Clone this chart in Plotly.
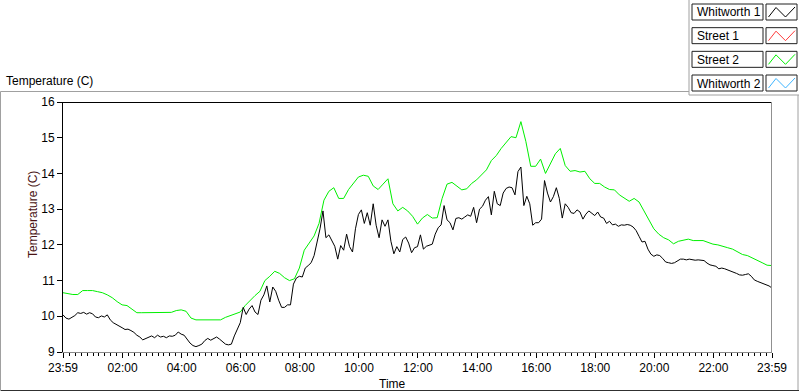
import numpy as np
import pandas as pd
import plotly.graph_objects as go

# ---------------- data ----------------
series_names = ["Whitworth 1", "Street 1", "Street 2", "Whitworth 2"]
legend_colors = ["#000000", "#ff3b3b", "#00f000", "#3cb4ff"]

black_step_min = 6
green_step_min = 10

whitworth1 = [
    10.04, 9.95, 9.92, 9.97, 10.02, 10.10, 10.08, 10.11, 10.06, 10.10,
    10.07, 9.98, 9.96, 10.01, 9.98, 10.04, 9.90, 9.82, 9.78, 9.72,
    9.68, 9.63, 9.64, 9.60, 9.55, 9.47, 9.42, 9.34, 9.38, 9.41,
    9.45, 9.40, 9.47, 9.42, 9.44, 9.40, 9.45, 9.44, 9.47, 9.56,
    9.50, 9.47, 9.35, 9.25, 9.18, 9.15, 9.18, 9.22, 9.32, 9.38,
    9.33, 9.38, 9.42, 9.36, 9.28, 9.22, 9.20, 9.22, 9.45, 9.65,
    9.82, 10.25, 10.05, 10.20, 10.30, 10.12, 10.05, 10.45, 10.60, 10.85,
    10.40, 10.82, 10.70, 10.45, 10.25, 10.25, 10.32, 10.32, 10.90, 11.07,
    11.12, 11.10, 11.35, 11.42, 11.50, 11.70, 12.05, 12.45, 12.95, 12.20,
    12.28, 12.12, 11.96, 11.60, 11.98, 11.85, 12.30, 11.95, 11.80, 12.45,
    12.85, 12.98, 12.60, 12.90, 12.55, 13.15, 12.55, 12.20, 12.70, 12.52,
    12.70, 12.10, 11.75, 11.95, 11.80, 12.15, 12.22, 12.05, 11.78, 11.92,
    11.95, 12.28, 11.88, 11.96, 11.98, 12.02, 12.30, 12.48, 12.56, 13.10,
    12.70, 12.62, 12.42, 12.74, 12.76, 12.72, 12.78, 12.84, 12.80, 13.05,
    12.62, 13.00, 13.08, 13.25, 13.35, 12.84, 13.50, 13.15, 13.10, 13.45,
    13.58, 13.62, 13.60, 13.40, 14.05, 14.18, 13.10, 13.36, 13.15, 12.55,
    12.62, 12.62, 12.72, 13.80, 13.45, 13.20, 13.35, 13.60, 13.30, 12.75,
    13.15, 13.05, 12.90, 12.88, 12.98, 12.92, 12.72, 12.86, 12.95, 12.88,
    12.82, 12.92, 12.78, 12.75, 12.60, 12.66, 12.56, 12.58, 12.52, 12.56,
    12.55, 12.57, 12.55, 12.50, 12.40, 12.24, 12.08, 12.10, 11.88, 11.74,
    11.68, 11.72, 11.70, 11.62, 11.52, 11.50, 11.48, 11.50, 11.55, 11.60,
    11.60, 11.58, 11.60, 11.58, 11.57, 11.58, 11.58, 11.56, 11.49, 11.44,
    11.42, 11.40, 11.33, 11.35, 11.33, 11.30, 11.28, 11.23, 11.20, 11.16,
    11.15, 11.17, 11.19, 11.12, 11.02, 10.98, 10.95, 10.92, 10.89, 10.85,
    10.79,
]

street2 = [
    10.66, 10.63, 10.61, 10.61, 10.72, 10.72, 10.72, 10.69, 10.66, 10.60,
    10.52, 10.41, 10.32, 10.30, 10.21, 10.10, 10.10, 10.10, 10.10, 10.10,
    10.10, 10.10, 10.11, 10.16, 10.18, 10.14, 9.95, 9.90, 9.90, 9.90,
    9.90, 9.92, 9.90, 9.97, 10.02, 10.08, 10.12, 10.30, 10.45, 10.58,
    10.70, 11.00, 11.12, 11.26, 11.20, 11.08, 11.00, 11.05, 11.35, 11.85,
    12.05, 12.25, 12.60, 13.25, 13.50, 13.60, 13.30, 13.30, 13.55, 13.72,
    13.90, 13.95, 13.92, 13.65, 13.55, 13.70, 13.85, 13.15, 12.95, 13.05,
    12.95, 12.80, 12.58, 12.75, 12.85, 12.75, 12.76, 13.30, 13.70, 13.75,
    13.65, 13.54, 13.57, 13.72, 13.82, 13.95, 14.10, 14.36, 14.50, 14.70,
    14.85, 15.03, 15.00, 15.45, 14.90, 14.20, 14.20, 14.40, 14.00, 14.30,
    14.55, 14.70, 14.22, 14.06, 14.08, 14.04, 14.06, 13.85, 13.72, 13.72,
    13.62, 13.55, 13.54, 13.40, 13.30, 13.22, 13.30, 13.20, 12.95, 12.68,
    12.45, 12.30, 12.20, 12.14, 12.03, 12.10, 12.12, 12.16, 12.12, 12.12,
    12.12, 12.07, 12.02, 12.00, 11.95, 11.92, 11.88, 11.80, 11.73, 11.70,
    11.64, 11.58, 11.50, 11.43, 11.42,
]

x_tick_labels = ["23:59", "02:00", "04:00", "06:00", "08:00", "10:00", "12:00",
                 "14:00", "16:00", "18:00", "20:00", "22:00", "23:59"]
y_ticks = [9, 10, 11, 12, 13, 14, 15, 16]

start = pd.Timestamp("2020-01-01 23:59")
end = pd.Timestamp("2020-01-02 23:59")
t_black = start + pd.to_timedelta(np.arange(len(whitworth1)) * black_step_min, unit="min")
t_green = start + pd.to_timedelta(np.arange(len(street2)) * green_step_min, unit="min")
tick_times = [start] + [pd.Timestamp("2020-01-02") + pd.Timedelta(hours=h) for h in range(2, 23, 2)] + [end]

# ---------------- layout geometry ----------------
W_FIG, H_FIG = 800, 392
L, T, R, B = 63, 102, 28, 40
PW, PH = W_FIG - L - R, H_FIG - T - B


def px(X):
    return (X - L) / PW


def py(Y):
    return (T + PH - Y) / PH


FONT = "Liberation Sans, Arial, sans-serif"

fig = go.Figure()
fig.add_trace(go.Scatter(x=t_green, y=street2, mode="lines", name=series_names[2],
                         line=dict(color=legend_colors[2], width=1), showlegend=False))
fig.add_trace(go.Scatter(x=t_black, y=whitworth1, mode="lines", name=series_names[0],
                         line=dict(color=legend_colors[0], width=1), showlegend=False))

shapes = []
gray = "#a0a0a0"


def seg(x0, y0, x1, y1, color=gray, w=1):
    shapes.append(dict(type="line", xref="paper", yref="paper",
                       x0=px(x0), y0=py(y0), x1=px(x1), y1=py(y1),
                       line=dict(color=color, width=w), layer="above"))


# outer frame
seg(0.5, 91.5, 689, 91.5)
seg(689, 0, 689, 95)
seg(689, 95, 799, 95)
seg(798, 95, 798, 391)
seg(0, 390.5, 799, 390.5, "#303030")
seg(0.5, 91.5, 0.5, 391)
# plot frame: top black, right gray
seg(63, 102.5, 772, 102.5, "#000000")
seg(771.5, 102, 771.5, 352, "#909090")

annotations = []
row_h = 23.67
for i, (name, col) in enumerate(zip(series_names, legend_colors)):
    top = 4 + row_h * i
    shapes.append(dict(type="rect", xref="paper", yref="paper",
                       x0=px(692), x1=px(763), y0=py(top), y1=py(top + 16),
                       line=dict(color="#202020", width=1), fillcolor="white"))
    shapes.append(dict(type="rect", xref="paper", yref="paper",
                       x0=px(766), x1=px(797), y0=py(top), y1=py(top + 16),
                       line=dict(color="#202020", width=1), fillcolor="white"))
    pts = [(768.5, top + 13), (776, top + 3.5), (785.5, top + 13), (795, top + 3)]
    path = "M " + " L ".join(f"{px(a)},{py(b)}" for a, b in pts)
    shapes.append(dict(type="path", xref="paper", yref="paper", path=path,
                       line=dict(color=col, width=1)))
    annotations.append(dict(text=name, xref="paper", yref="paper", x=px(695), y=py(top + 8.5),
                            xanchor="left", yanchor="middle", showarrow=False,
                            font=dict(family=FONT, size=12, color="#000000")))

annotations.append(dict(text="Temperature (C)", xref="paper", yref="paper", x=px(4), y=py(81),
                        xanchor="left", yanchor="middle", showarrow=False,
                        font=dict(family=FONT, size=12, color="#000000")))
annotations.append(dict(text="Temperature (C)", xref="paper", yref="paper", x=px(33), y=py(215),
                        xanchor="center", yanchor="middle", textangle=-90, showarrow=False,
                        font=dict(family=FONT, size=12, color="#4a1414")))
annotations.append(dict(text="Time", xref="paper", yref="paper", x=px(392), y=py(384),
                        xanchor="center", yanchor="middle", showarrow=False,
                        font=dict(family=FONT, size=12, color="#000000")))

fig.update_layout(
    width=W_FIG, height=H_FIG,
    margin=dict(l=L, r=R, t=T, b=B, pad=0),
    paper_bgcolor="white", plot_bgcolor="white",
    shapes=shapes, annotations=annotations,
    font=dict(family=FONT, size=12, color="#000000"),
    xaxis=dict(
        type="date", range=[start, end],
        tickmode="array", tickvals=tick_times, ticktext=x_tick_labels,
        ticks="outside", ticklen=5, tickcolor="#000000", tickwidth=1,
        showgrid=False, zeroline=False,
        showline=True, linecolor="#8a8a8a", linewidth=1,
        tickfont=dict(family=FONT, size=12, color="#000000"),
        minor=dict(ticks="outside", ticklen=3, tickcolor="#000000", tickwidth=1,
                   dtick=12 * 60 * 1000, tick0="2020-01-02 00:00:00", showgrid=False),
    ),
    yaxis=dict(
        range=[9, 16], tickmode="array", tickvals=y_ticks,
        ticktext=[str(v) for v in y_ticks],
        ticks="outside", ticklen=5, tickcolor="#000000", tickwidth=1,
        showgrid=False, zeroline=False,
        showline=True, linecolor="#000000", linewidth=1,
        tickfont=dict(family=FONT, size=12, color="#000000"),
    ),
)

fig.write_html("out.html", config={"displayModeBar": False},
               post_script="document.body.style.margin='0';")
